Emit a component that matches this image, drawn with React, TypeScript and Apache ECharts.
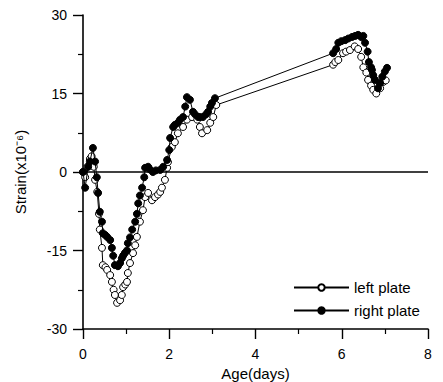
import React, { useEffect, useRef } from "react";
import * as echarts from "echarts";

const xTicks = [0, 2, 4, 6, 8];
const yTicks = [-30, -15, 0, 15, 30];

const leftPlate: [number, number][] = [
  [0, 0], [0.05, -1], [0.1, 1], [0.16, 2.5], [0.2, 3], [0.25, 1], [0.28, -1.5],
  [0.33, -3.8], [0.37, -8], [0.39, -11], [0.44, -14.5], [0.46, -17.8], [0.52, -18.2],
  [0.56, -18.7], [0.63, -19.7], [0.67, -21], [0.71, -22.5], [0.74, -23.5], [0.79, -25],
  [0.86, -24.5], [0.9, -23.5], [0.93, -22], [0.98, -21.5], [1.02, -21], [1.04, -19.3],
  [1.09, -17.4], [1.16, -15.5], [1.21, -14], [1.25, -12.4], [1.32, -9.5], [1.39, -7.3],
  [1.44, -4.8], [1.51, -4], [1.6, -5.4], [1.67, -4.8], [1.74, -4.3], [1.79, -3.8],
  [1.83, -3], [1.9, -1.5], [1.95, 0.8], [1.97, 1.9], [2.06, 4.8], [2.13, 5.7],
  [2.2, 7.4], [2.32, 8.6], [2.41, 10], [2.53, 10.5], [2.65, 10], [2.71, 8.6],
  [2.76, 7.4], [2.88, 8], [2.95, 9.4], [3.02, 10.5], [3.09, 12.8],
  [5.8, 20.5], [5.85, 21], [5.92, 21.4], [6.03, 22.7], [6.1, 23], [6.19, 23.3],
  [6.3, 24], [6.38, 23.5], [6.45, 22], [6.5, 20], [6.57, 19], [6.61, 17.6],
  [6.68, 16.5], [6.73, 15.7], [6.8, 15], [6.89, 16], [6.96, 17.2], [7.02, 17.5],
];

const rightPlate: [number, number][] = [
  [0, 0], [0.05, -3], [0.12, 1], [0.16, 2], [0.23, 4.6], [0.28, 2], [0.32, -1],
  [0.35, -4], [0.39, -7.6], [0.44, -9.5], [0.46, -11.7], [0.51, -12], [0.56, -12.4],
  [0.63, -13], [0.67, -14.5], [0.7, -16], [0.74, -17.8], [0.81, -18], [0.86, -17.4],
  [0.9, -16.5], [0.93, -16], [0.97, -15.5], [1.02, -15], [1.04, -13.6], [1.09, -12.5],
  [1.14, -11], [1.21, -9.5], [1.25, -8], [1.28, -6], [1.32, -4.5], [1.37, -3],
  [1.42, -1], [1.44, 0.8], [1.51, 1], [1.55, 0.5], [1.62, 0], [1.69, 0.3],
  [1.79, 0.4], [1.86, 1], [1.95, 2.3], [2.0, 4.2], [2.02, 6.5], [2.09, 8.6],
  [2.13, 9], [2.2, 9.4], [2.25, 10], [2.32, 10.5], [2.37, 12.5], [2.41, 14.3],
  [2.48, 13.8], [2.55, 11.5], [2.6, 11], [2.67, 10.5], [2.71, 10.5], [2.78, 10.5],
  [2.85, 11], [2.9, 11.5], [2.95, 12.5], [2.99, 13.2], [3.06, 14.1],
  [5.8, 22.7], [5.87, 23.5], [5.92, 24.7], [5.99, 25], [6.08, 25.2], [6.15, 25.5],
  [6.24, 25.8], [6.31, 26], [6.38, 26.2], [6.45, 25.8], [6.5, 26], [6.54, 24.7],
  [6.6, 23], [6.63, 21], [6.68, 20], [6.7, 19.5], [6.73, 18.5], [6.77, 17.6],
  [6.84, 16], [6.89, 17], [6.94, 18.2], [7.0, 19.2], [7.05, 19.9],
];

const FONT = "'Liberation Sans', Arial, sans-serif";

export default function App() {
  const ref = useRef<HTMLDivElement>(null);
  useEffect(() => {
    if (!ref.current) return;
    const chart = echarts.init(ref.current, null, { renderer: "svg" });
    const axisCommon = {
      axisLine: { show: true, onZero: false, lineStyle: { color: "#000", width: 1.6 } },
      axisTick: { show: true, inside: false, length: 10, lineStyle: { color: "#000", width: 1.4 } },
      minorTick: { show: true, splitNumber: 2, length: 5, lineStyle: { color: "#000", width: 1.2 } },
      splitLine: { show: false },
      axisLabel: { color: "#000", fontSize: 14, fontFamily: FONT },
      nameTextStyle: { color: "#000", fontSize: 15, fontFamily: FONT },
    };
    chart.setOption({
      animation: false,
      backgroundColor: "#fff",
      textStyle: { fontFamily: FONT, color: "#000" },
      grid: { left: 83, right: 15, top: 15, bottom: 53, outerBoundsMode: "none", containLabel: false },
      legend: {
        orient: "vertical",
        left: 288,
        top: 275,
        itemWidth: 55,
        itemHeight: 8,
        itemGap: 8,
        data: ["left plate", "right plate"],
        textStyle: { color: "#000", fontSize: 15, fontFamily: FONT },
      },
      xAxis: {
        type: "value",
        min: xTicks[0],
        max: xTicks[xTicks.length - 1],
        interval: 2,
        name: "Age(days)",
        nameLocation: "middle",
        nameGap: 34,
        ...axisCommon,
        axisLabel: { ...axisCommon.axisLabel, margin: 18 },
      },
      yAxis: {
        type: "value",
        min: yTicks[0],
        max: yTicks[yTicks.length - 1],
        interval: 15,
        name: "Strain(x10\u207B\u2076)",
        nameLocation: "middle",
        nameGap: 55,
        ...axisCommon,
        axisLabel: { ...axisCommon.axisLabel, margin: 16 },
      },
      series: [
        {
          name: "left plate",
          type: "line",
          data: leftPlate,
          symbol: "circle",
          symbolSize: 7,
          showAllSymbol: true,
          lineStyle: { color: "#000", width: 1 },
          itemStyle: { color: "#fff", borderColor: "#000", borderWidth: 1 },
          z: 3,
          markLine: {
            silent: true,
            symbol: "none",
            label: { show: false },
            lineStyle: { color: "#000", width: 1.6, type: "solid" },
            data: [{ yAxis: 0 }],
          },
        },
        {
          name: "right plate",
          type: "line",
          data: rightPlate,
          symbol: "circle",
          symbolSize: 7,
          showAllSymbol: true,
          lineStyle: { color: "#000", width: 1 },
          itemStyle: { color: "#000", borderColor: "#000", borderWidth: 1 },
          z: 4,
        },
      ],
    });
    return () => chart.dispose();
  }, []);
  return (
    <div
      ref={ref}
      style={{ position: "fixed", left: 0, top: 0, width: 443, height: 382, background: "#fff" }}
    />
  );
}
